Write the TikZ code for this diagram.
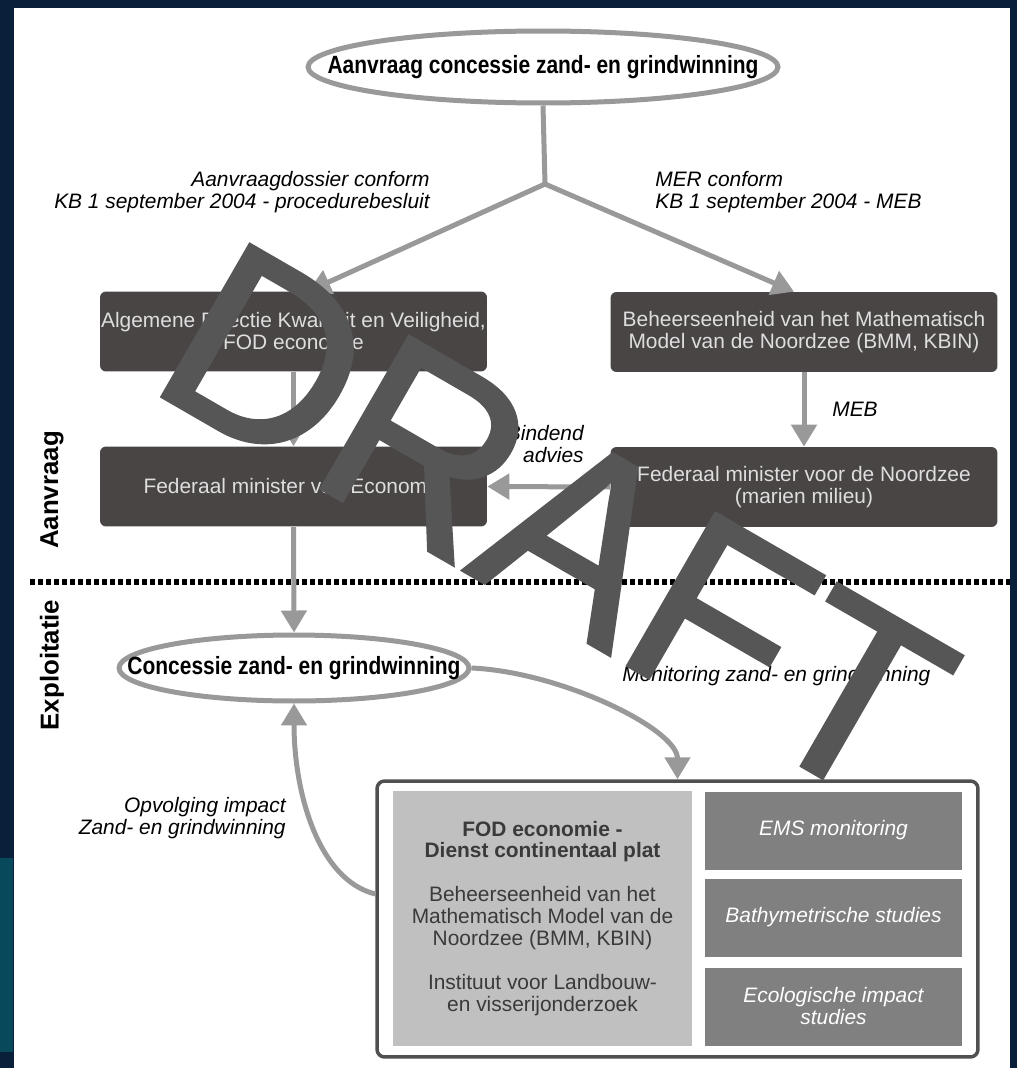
\documentclass[tikz,border=0pt]{standalone}
\usepackage{fontspec}
\setmainfont{Liberation Sans}
\newfontfamily\narrowfont{Liberation Sans}[FakeStretch=0.84]
\newfontfamily\draftfont{Liberation Sans}[FakeBold=1.5]
\usetikzlibrary{arrows.meta,shapes.geometric}

\definecolor{navyframe}{RGB}{10,32,58}
\definecolor{tealband}{RGB}{8,74,92}
\definecolor{boxdark}{RGB}{74,69,69}
\definecolor{boxtext}{RGB}{222,222,222}
\definecolor{panelgray}{RGB}{128,128,128}
\definecolor{panellight}{RGB}{192,192,192}
\definecolor{paneltext}{RGB}{58,58,58}
\definecolor{linkgray}{RGB}{153,153,153}
\definecolor{framegray}{RGB}{80,80,80}
\definecolor{draftgray}{RGB}{86,86,86}

\tikzset{
  darkbox/.style={fill=boxdark, rounded corners=0.12cm, text=boxtext, minimum width=7.74cm, minimum height=1.6cm, align=center, inner sep=0},
  oval/.style={ellipse, draw=linkgray, line width=0.1cm, fill=white},
  ovaltext/.style={font=\narrowfont\bfseries\fontsize{14.2}{15}\selectfont, inner sep=0},
  linkline/.style={draw=linkgray, line width=0.1cm},
  link/.style={linkline, -{Triangle[length=0.44cm,width=0.5cm]}},
  note/.style={font=\itshape, inner sep=0},
  phase/.style={font=\bfseries\fontsize{14.7}{15}\selectfont, rotate=90, inner sep=0},
  stripbox/.style={fill=panelgray, minimum width=5.14cm, minimum height=1.56cm, text=white, font=\itshape, align=center, inner sep=0}
}

\begin{document}
\fontsize{11.9}{12.5}\selectfont
\begin{tikzpicture}[x=0.02cm, y=-0.02cm]
  \useasboundingbox (0,0) rectangle (1017,1068);
  \fill[navyframe] (0,0) rectangle (1017,1068);
  \fill[white] (14,8) rectangle (1010,1068);
  \fill[tealband] (0,858) rectangle (13,1052);

  \node[oval, minimum width=9.4cm, minimum height=1.44cm] (aanvraag) at (543,67) {};
  \node[ovaltext] (aanvraagtxt) at (aanvraag) {Aanvraag concessie zand- en grindwinning};
  \coordinate (split) at (545,184);

  \node[darkbox] (alg) at (293.5,331.5) {Algemene Directie Kwaliteit en Veiligheid,\\FOD economie};
  \node[darkbox] (minec) at (293.5,486.5) {Federaal minister van Economie};
  \node[darkbox] (bmm) at (804,332) {Beheerseenheid van het Mathematisch\\Model van de Noordzee (BMM, KBIN)};
  \node[darkbox] (minnz) at (804,487) {Federaal minister voor de Noordzee\\(marien milieu)};

  \node[note, anchor=east, align=right] (lbldossier) at (430,192) {Aanvraagdossier conform\\KB 1 september 2004 - procedurebesluit};
  \node[note, anchor=west, align=left] (lblmer) at (655,192) {MER conform\\KB 1 september 2004 - MEB};
  \node[note] (lblmeb) at (855,409) {MEB};
  \node[note, anchor=east, align=right] (lbladvies) at (584,444) {Bindend\\advies};

  \draw[linkline] (aanvraag.south) -- (split);
  \draw[link] (split) -- ([xshift=0.3cm]alg.north);
  \draw[link] (split) -- ([xshift=-0.2cm]bmm.north);
  \draw[link] (alg.south) -- (minec.north);
  \draw[link] (bmm.south) -- (minnz.north);
  \draw[link] (minnz.west) -- (minec.east);

  \draw[line width=0.12cm, dash pattern=on 0.1cm off 0.06cm] (30,582) -- (1010,582);
  \node[phase] (lblaanvraag) at (52,490) {Aanvraag};
  \node[phase] (lblexpl) at (52,665) {Exploitatie};

  \node[oval, minimum width=7.0cm, minimum height=1.32cm] (concessie) at (294,668) {};
  \node[ovaltext] (concessietxt) at (concessie) {Concessie zand- en grindwinning};
  \draw[link] (minec.south) -- (concessie.north);

  \node[note, anchor=west] (lblmonitor) at (622,676) {Monitoring zand- en grindwinning};
  \node[note, anchor=east, align=right] (lblopvolging) at (286,818) {Opvolging impact\\Zand- en grindwinning};

  \node[draw=framegray, line width=0.07cm, rounded corners=0.15cm, minimum width=12.02cm, minimum height=5.52cm, fill=white] (team) at (677.5,919) {};
  \node[fill=panellight, text=paneltext, minimum width=5.98cm, minimum height=5.1cm, align=center, inner sep=0] (inst) at (542.5,918.5)
    {\textbf{FOD economie -}\\\textbf{Dienst continentaal plat}\\[0.44cm]Beheerseenheid van het\\Mathematisch Model van de\\Noordzee (BMM, KBIN)\\[0.44cm]Instituut voor Landbouw-\\en visserijonderzoek};
  \node[stripbox] (ems) at (833.5,830.5) {EMS monitoring};
  \node[stripbox] (bathy) at (833.5,917.5) {Bathymetrische studies};
  \node[stripbox] (eco) at (833.5,1006.5) {Ecologische impact\\studies};

  \draw[link] (concessie.east) .. controls +(90,4) and +(0,-50) .. (team.north);
  \draw[link] ([yshift=0.5cm]team.west) .. controls +(-57,-14) and +(0,89) .. (concessie.south);

  \node[anchor=base west, rotate=-30, inner sep=0, text=draftgray, font=\draftfont\fontsize{145}{145}\selectfont] (draft) at (144,386) {DRAFT};
\end{tikzpicture}
\end{document}
